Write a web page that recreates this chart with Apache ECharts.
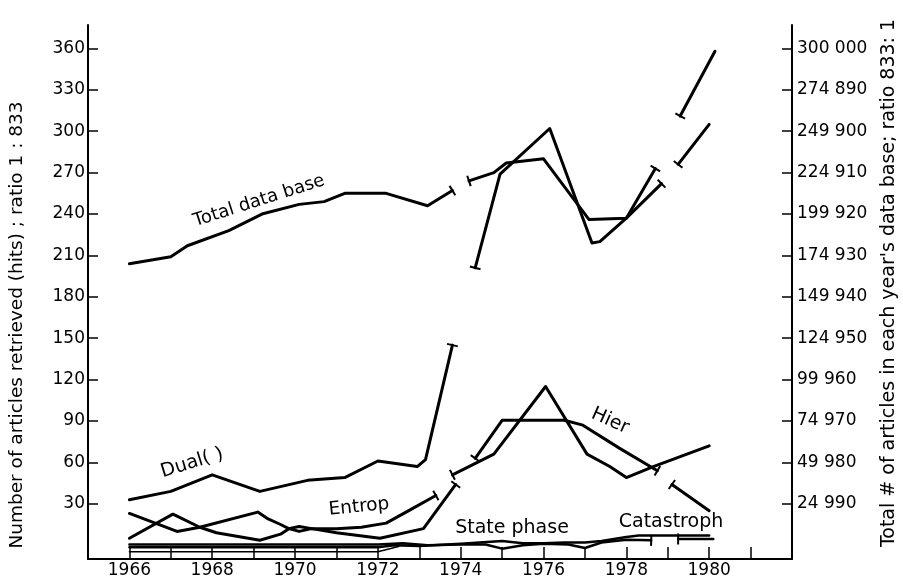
<!DOCTYPE html>
<html>
<head>
<meta charset="utf-8">
<script src="https://cdn.jsdelivr.net/npm/echarts@6/dist/echarts.min.js"></script>
<style>
  html, body { margin: 0; padding: 0; background: #fff; }
  #chart { width: 903px; height: 577px; }
</style>
</head>
<body>
<div id="chart"></div>
<script>
// left axis ticks (hits) and the matching right axis labels (x 833)
const leftTicks = [30, 60, 90, 120, 150, 180, 210, 240, 270, 300, 330, 360]
const rightTickLabels = ['24 990', '49 980', '74 970', '99 960', '124 950', '149 940',
  '174 930', '199 920', '224 910', '249 900', '274 890', '300 000']
const yearLabels = [1966, 1968, 1970, 1972, 1974, 1976, 1978, 1980]

// Total data base (right scale, drawn on left units)
const totalYears = [1966, 1967, 1967.4, 1968.4, 1969.2, 1970.1, 1970.7, 1971.2, 1972.2, 1973.2, 1973.8,
  1974, 1974.2, 1974.8, 1975.1, 1976, 1977.1, 1978, 1978.85, 1979.05, 1979.25, 1980]
const totalValues = [204, 209, 217, 228, 240, 247, 249, 255, 255, 246, 257,
  null, 264, 270, 277, 280, 236, 237, 262, null, 276, 305]
const totalBreaks = [10, 12, 18, 20]

// Dual( )
const dualYears = [1966, 1967, 1968, 1969.15, 1970.3, 1971.2, 1972, 1972.95, 1973.15, 1973.8,
  1974.1, 1974.35, 1974.95, 1976.15, 1977.17, 1977.36, 1978, 1978.7, 1979, 1979.3, 1980.14]
const dualValues = [33, 39, 51, 39, 47, 49, 61, 57, 62, 145,
  null, 201, 269, 302, 219, 220, 237, 273, null, 311, 358]
const dualBreaks = [9, 11, 17, 19]

// Entrop
const entropYears = [1966, 1967.15, 1967.7, 1969.1, 1969.35, 1969.65, 1969.85, 1970.1, 1970.4, 1971,
  1972.05, 1973.1, 1973.88, 1973.85, 1973.8, 1974.8, 1976.05, 1977.05, 1977.6, 1978, 1978.65, 1980]
const entropValues = [23, 10, 13, 24, 19, 15, 12, 10, 12, 9,
  5, 12, 44, null, 51, 66, 115, 66, 57, 49, 57, 72]
const entropBreaks = [12, 14]

// Hier
const hierYears = [1966, 1967.05, 1967.7, 1968.1, 1969.15, 1969.65, 1969.85, 1970.1, 1970.4, 1971,
  1971.6, 1972.2, 1972.8, 1973.4, 1973.9, 1974.35, 1975, 1976.5, 1976.95, 1977.85, 1978.75,
  1978.95, 1979.1, 1980]
const hierValues = [5, 22.5, 13, 9, 3.6, 8, 12, 13.5, 12, 12,
  13, 16, 26, 36, null, 63, 90.5, 90.5, 87, 70, 54,
  null, 44, 25]
const hierBreaks = [13, 15, 20, 22]

// State phase / Catastroph (near zero)
const stateYears = [1966, 1972, 1972.6, 1973.2, 1974, 1974.6, 1975, 1975.5, 1976, 1976.6, 1977, 1977.4,
  1978, 1978.6, 1978.9, 1979.25, 1980.1]
const stateValues = [0.5, 0.5, 1.5, 0, 0.5, 0.5, -2.5, 0, 1, 0.5, -2, 2,
  4, 3.5, null, 4.5, 4.5]
const stateBreaks = [13, 15]
const catYears = [1966, 1972, 1972.4, 1973, 1974, 1975, 1975.5, 1976, 1976.5, 1977, 1977.4, 1978, 1978.3, 1980]
const catValues = [-1.5, -1.5, 0, -0.5, 1, 3, 1.5, 1.5, 2, 2, 3, 6, 7, 7]
const baseYears = [1966, 1972, 1972.5]
const baseValues = [-4.7, -4.7, -1]

const FONT = 'DejaVu Sans'
const chart = echarts.init(document.getElementById('chart'))

const lineDefs = [
  { name: 'Total data base', years: totalYears, values: totalValues, breaks: totalBreaks, width: 3 },
  { name: 'Dual( )', years: dualYears, values: dualValues, breaks: dualBreaks, width: 3 },
  { name: 'Entrop', years: entropYears, values: entropValues, breaks: entropBreaks, width: 3 },
  { name: 'Hier', years: hierYears, values: hierValues, breaks: hierBreaks, width: 3 },
  { name: 'State phase', years: stateYears, values: stateValues, breaks: stateBreaks, width: 2.5 },
  { name: 'Catastroph', years: catYears, values: catValues, breaks: [], width: 2.5 },
  { name: 'base', years: baseYears, values: baseValues, breaks: [], width: 1.5 }
]

const makeSeries = (def, angles) => ({
  name: def.name,
  type: 'line',
  symbol: 'none',
  showSymbol: true,
  connectNulls: false,
  lineStyle: { color: '#000', width: def.width, cap: 'round', join: 'round' },
  itemStyle: { color: '#000' },
  emphasis: { disabled: true },
  z: 3,
  data: def.years.map((yr, i) => {
    const v = def.values[i] == null ? '-' : def.values[i]
    if (def.breaks.includes(i)) {
      return { value: [yr, v], symbol: 'rect', symbolSize: [2, 11], symbolRotate: angles ? angles[i] : 0 }
    }
    return [yr, v]
  })
})

// annotation text helper
const label = (text, x, y, size, rotation) => ({
  type: 'text', x, y, rotation: rotation || 0,
  style: { text, font: size + 'px ' + FONT, fill: '#000',
    textAlign: 'center', textVerticalAlign: 'middle', align: 'center', verticalAlign: 'middle' }
})

const option = {
  animation: false,
  backgroundColor: '#fff',
  textStyle: { fontFamily: FONT, color: '#000' },
  grid: { left: 88, right: 111, top: 25, bottom: 18, containLabel: false, outerBoundsMode: 'none' },
  xAxis: {
    type: 'value',
    min: 1965,
    max: 1982,
    interval: 1,
    splitLine: { show: false },
    axisLine: { onZero: false, lineStyle: { color: '#000', width: 2 } },
    axisTick: { inside: true, length: 12, lineStyle: { color: '#000', width: 1.5 } },
    axisLabel: {
      color: '#000', fontSize: 17, fontFamily: FONT, margin: 3,
      formatter: (v) => yearLabels.includes(v) ? String(v) : ''
    }
  },
  yAxis: [
    {
      type: 'value',
      min: -10,
      max: 377,
      splitLine: { show: false },
      axisLine: { show: true, onZero: false, lineStyle: { color: '#000', width: 2 } },
      axisTick: { show: true, inside: true, length: 10, customValues: leftTicks, lineStyle: { color: '#000', width: 1.5 } },
      axisLabel: { color: '#000', fontSize: 17, fontFamily: FONT, margin: 3, customValues: leftTicks }
    },
    {
      type: 'value',
      position: 'right',
      min: -10,
      max: 377,
      splitLine: { show: false },
      axisLine: { show: true, onZero: false, lineStyle: { color: '#000', width: 2 } },
      axisTick: { show: true, inside: true, length: 10, customValues: leftTicks, lineStyle: { color: '#000', width: 1.5 } },
      axisLabel: {
        color: '#000', fontSize: 17, fontFamily: FONT, margin: 5, customValues: leftTicks,
        formatter: (v) => rightTickLabels[leftTicks.indexOf(Math.round(v))] || ''
      }
    }
  ],
  graphic: [
    label('Number of articles retrieved (hits) ; ratio 1 : 833', 17, 325, 18.5, Math.PI / 2),
    label("Total # of articles in each year's data base; ratio 833: 1", 889, 283, 19, Math.PI / 2),
    label('Total data base', 259, 201, 18, 0.31),
    label('Dual( )', 192, 463, 19, 0.3),
    label('Entrop', 359, 507, 18.5, 0.1),
    label('State phase', 512, 528, 19),
    label('Catastroph', 671, 522, 19),
    label('Hier', 610, 421, 19, -0.42)
  ],
  series: lineDefs.map(d => makeSeries(d))
}

chart.setOption(option)

// orient the break marks across their line, using the chart's own scales
const tickAngles = (def) => {
  const angles = {}
  def.breaks.forEach(i => {
    const j = def.values[i - 1] != null && i > 0 ? i - 1 : i + 1
    const a = chart.convertToPixel({ gridIndex: 0 }, [def.years[i], def.values[i]])
    const b = chart.convertToPixel({ gridIndex: 0 }, [def.years[j], def.values[j]])
    angles[i] = Math.atan2(-(b[1] - a[1]), b[0] - a[0]) * 180 / Math.PI
  })
  return angles
}
chart.setOption({ series: lineDefs.map(d => makeSeries(d, tickAngles(d))) })
</script>
</body>
</html>
